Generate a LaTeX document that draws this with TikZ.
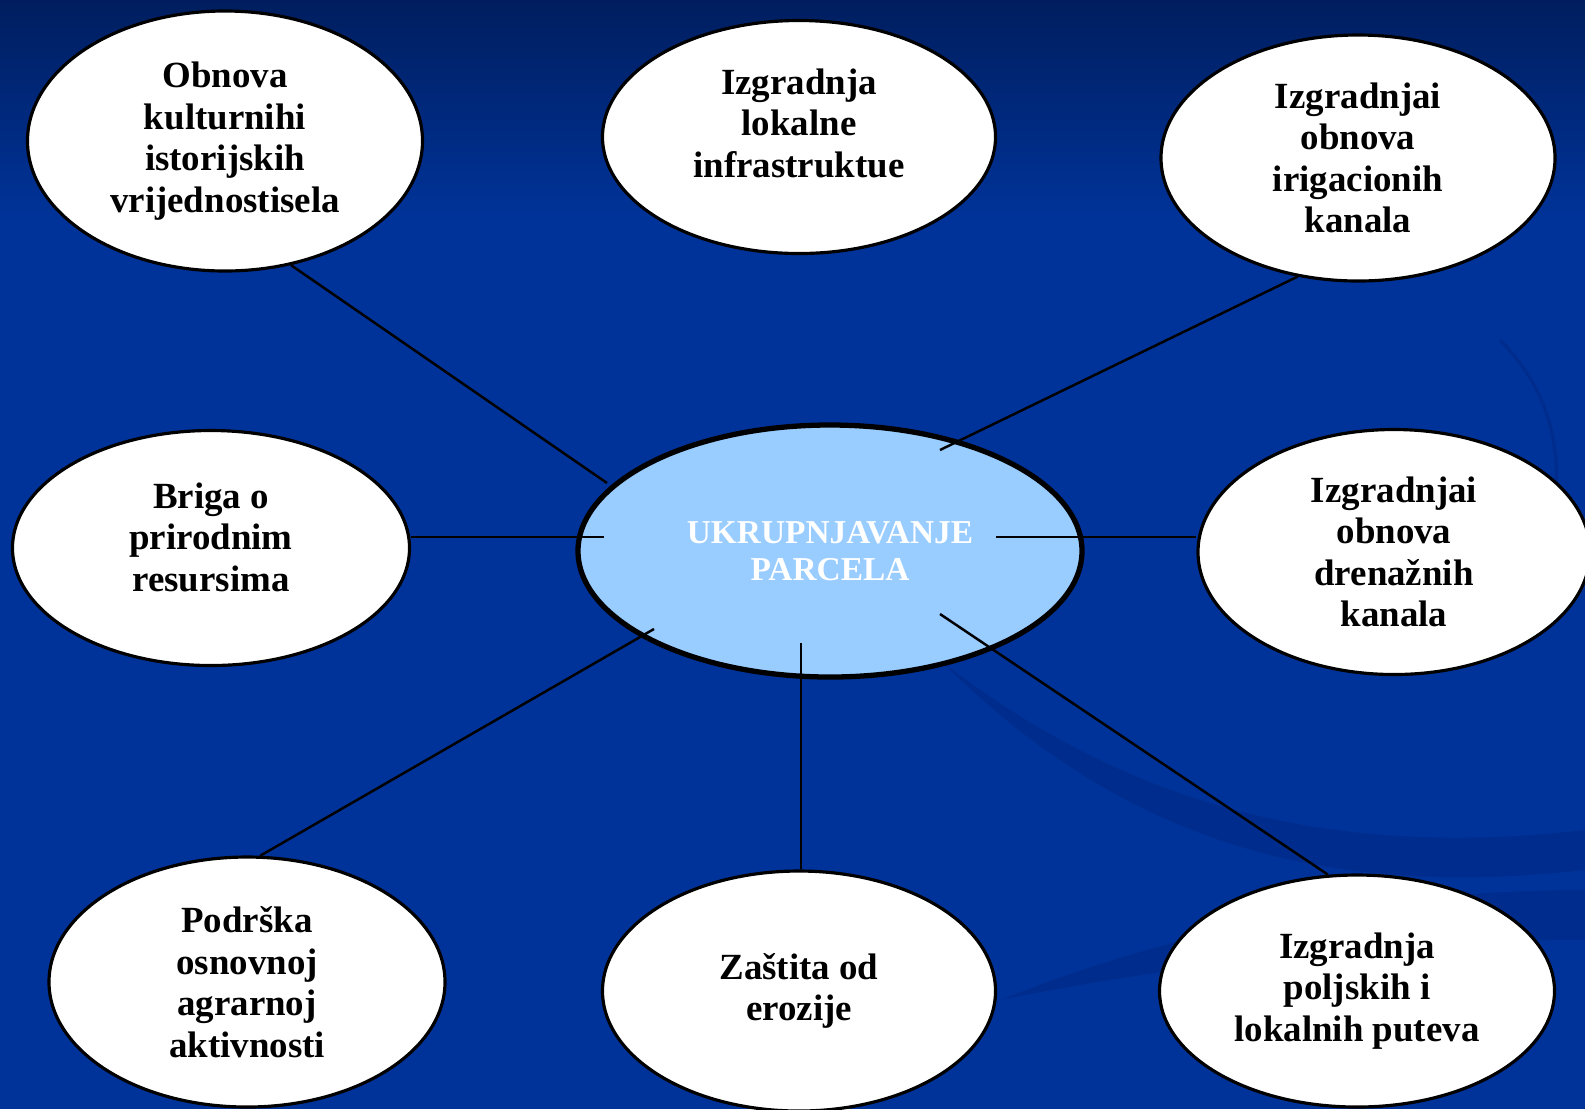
\documentclass[tikz,border=0pt]{standalone}
\usepackage{fontspec}
\setmainfont{Liberation Serif}
\usetikzlibrary{shapes.geometric}
\definecolor{slidetop}{RGB}{0,30,95}
\definecolor{slideblue}{RGB}{0,51,153}
\definecolor{swoosh}{RGB}{0,36,120}
\definecolor{hubblue}{RGB}{153,204,255}

\begin{document}
\begin{tikzpicture}[scale=0.2]
            \tikzstyle{every node}+=[inner sep=0pt]
            \tikzstyle{oval}=[ellipse, draw=black, line width=0.9pt, fill=white, align=center, font=\fontsize{10.5}{11.8}\selectfont\bfseries]
            \tikzstyle{hub}=[ellipse, draw=black, line width=1.5pt, fill=hubblue, text=white, align=center, font=\fontsize{9.5}{10.6}\selectfont\bfseries]
            \tikzstyle{spoke}=[black, line width=0.7pt]
            \useasboundingbox (0,0) rectangle (79.25,-55.45);
            \fill [slideblue] (0,0) rectangle (79.25,-55.45);
            \shade [top color=slidetop, bottom color=slideblue] (0,0) rectangle (79.25,-11);
            \fill [swoosh, opacity=0.35] (47,-33) .. controls (56,-40) and (66,-43) .. (79.25,-41.5) -- (79.25,-43.5) .. controls (66,-45) and (56,-42) .. (47,-33);
            \fill [swoosh, opacity=0.35] (50,-50) .. controls (60,-46) and (70,-44.5) .. (79.25,-44.5) -- (79.25,-47) .. controls (70,-47) and (60,-48) .. (50,-50);
            \draw [swoosh, line width=1pt, opacity=0.35] (75,-17) .. controls (78,-20) and (78.5,-24) .. (77,-28);
            \node [oval, minimum width=3.95cm, minimum height=2.6cm] (tl) at (11.25,-7.05) {Obnova\\kulturnihi\\istorijskih\\vrijednostisela};
            \node [oval, minimum width=3.93cm, minimum height=2.33cm] (tm) at (39.95,-6.85) {Izgradnja\\lokalne\\infrastruktue\\[-3.8pt]\mbox{}};
            \node [oval, minimum width=3.94cm, minimum height=2.46cm] (tr) at (67.9,-7.9) {Izgradnjai\\obnova\\irigacionih\\kanala};
            \node [oval, minimum width=3.97cm, minimum height=2.35cm] (ml) at (10.55,-27.4) {Briga o\\prirodnim\\resursima\\[-5.6pt]\mbox{}};
            \node [hub, minimum width=5.04cm, minimum height=2.52cm] (c) at (41.5,-27.55) {UKRUPNJAVANJE\\PARCELA};
            \node [oval, minimum width=3.92cm, minimum height=2.45cm] (mr) at (69.7,-27.6) {Izgradnjai\\obnova\\drenažnih\\kanala};
            \node [oval, minimum width=3.96cm, minimum height=2.5cm] (bl) at (12.35,-49.1) {Podrška\\osnovnoj\\agrarnoj\\aktivnosti};
            \node [oval, minimum width=3.93cm, minimum height=2.4cm] (bm) at (39.95,-49.55) {Zaštita od\\erozije};
            \node [oval, minimum width=3.95cm, minimum height=2.32cm] (br) at (67.85,-49.55) {Izgradnja\\poljskih i\\lokalnih puteva};
            \coordinate (tlin) at (30.35,-24.15);
            \coordinate (trin) at (47,-22.5);
            \coordinate (mlin) at (30.2,-26.85);
            \coordinate (mrin) at (49.8,-26.85);
            \coordinate (blin) at (32.7,-31.45);
            \coordinate (bmin) at (40.05,-32.15);
            \coordinate (brin) at (47,-30.7);
            \draw [spoke] (tl.-62) -- (tlin);
            \draw [spoke] (tr.-117) -- (trin);
            \draw [spoke] (ml.east |- mlin) -- (mlin);
            \draw [spoke] (mrin) -- (mr.west |- mrin);
            \draw [spoke] (bl.84) -- (blin);
            \draw [spoke] (bmin |- bm.north) -- (bmin);
            \draw [spoke] (br.104) -- (brin);
        \end{tikzpicture}
\end{document}
